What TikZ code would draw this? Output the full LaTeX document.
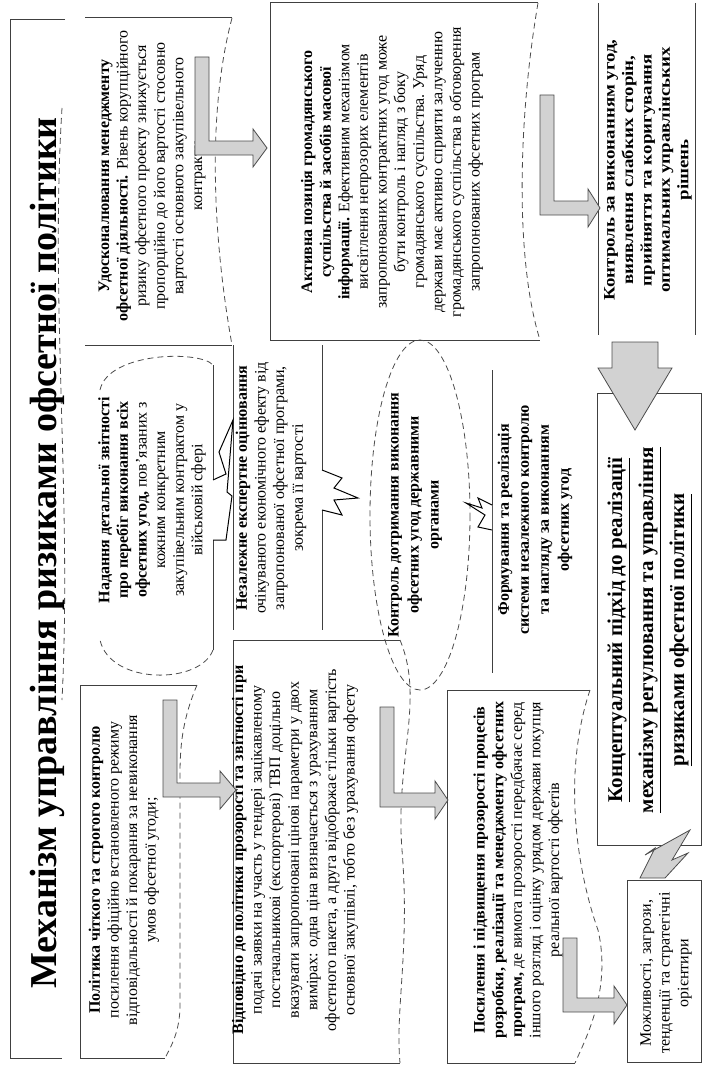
\documentclass[tikz,border=0pt]{standalone}
\usepackage{fontspec}
\setmainfont{Liberation Serif}
\newfontfamily\widefont[FakeStretch=1.18]{Liberation Serif}
\usetikzlibrary{shapes.geometric,positioning}

\newcommand{\bentarr}[5]{%
  \filldraw[barrow] (#1,#2) -- ({#1+14},#2) -- ({#1+14},{#3-14}) -- (#4,{#3-14})
    -- (#4,{#3-26}) -- (#5,{#3-7}) -- (#4,{#3+12}) -- (#4,#3) -- (#1,#3) -- cycle;}

\begin{document}
\begin{tikzpicture}[x=0.5pt, y=-0.5pt,
    txt/.style={rotate=90, align=center, inner sep=0pt,
                font=\fontsize{8}{9.3}\selectfont},
    frame/.style={draw=black!75, line width=0.5pt},
    wave/.style={draw=black!70, densely dashed, line width=0.4pt},
    barrow/.style={fill=gray!35, draw=gray!60!black, line width=0.4pt},
    callout/.style={fill=white, draw=black, line width=0.5pt}
]
\useasboundingbox (0,0) rectangle (703,1070);

% title banner
\draw[frame] (65,20) -- (10,20) -- (10,1058) -- (62,1058);
\draw[wave] (62,108) .. controls (50,300) and (72,500) .. (62,700);
\node[rotate=90, font=\bfseries\fontsize{19}{22}\selectfont] (title) at (47,553)
    {Механізм управління ризиками офсетної політики};

% first row
\draw[frame] (85,18) -- (232,18);
\draw[wave] (232,18) .. controls (205,120) and (215,250) .. (232,345);
\draw[frame] (85,345) -- (232,345);
\node[txt] (upd) at (152,176)
    {\textbf{Удосконалювання менеджменту}\\
     \textbf{офсетної діяльності.} Рівень корупційного\\
     ризику офсетного проекту знижується\\
     пропорційно до його вартості стосовно\\
     вартості основного закупівельного\\
     контракту};

\draw[wave] (100,390) .. controls (108,352) and (200,350) .. (213,365);
\draw[frame] (213,365) -- (213,480);
\draw[frame] (213,540) -- (213,650);
\draw[wave] (213,650) .. controls (200,685) and (110,685) .. (100,640);
\node[txt] (nad) at (152,500)
    {\textbf{Надання детальної звітності}\\
     \textbf{про перебіг виконання всіх}\\
     \textbf{офсетних угод,} пов'язаних з\\
     кожним конкретним\\
     закупівельним контрактом у\\
     військовій сфері};

\draw[frame] (197,685) -- (80,685) -- (80,1058) -- (165,1058);
\draw[wave] (197,685) .. controls (178,730) and (180,760) .. (180,800)
    -- (180,1005) .. controls (180,1030) and (172,1045) .. (165,1058);
\node[txt] (pol) at (124,870)
    {\textbf{Політика чіткого та строгого контролю}\\
     посилення офіційно встановленого режиму\\
     відповідальності й покарання за невиконання\\
     умов офсетної угоди;};

% second row
\draw[frame] (538,3) -- (270,3) -- (270,340) -- (540,340);
\draw[wave] (538,3) .. controls (518,120) and (515,260) .. (540,340);
\node[txt] (akt) at (392,172)
    {\textbf{Активна позиція громадянського}\\
     \textbf{суспільства й засобів масової}\\
     \textbf{інформації.} Ефективним механізмом\\
     висвітлення непрозорих елементів\\
     запропонованих контрактних угод може\\
     бути контроль і нагляд з боку\\
     громадянського суспільства. Уряд\\
     держави має активно сприяти залученню\\
     громадянського суспільства в обговорення\\
     запропонованих офсетних програм};

\draw[frame] (233,345) -- (233,630);
\draw[frame] (322,345) -- (322,630);
\node[txt] (nez) at (271,488)
    {\textbf{Незалежне експертне оцінювання}\\
     очікуваного економічного ефекту від\\
     запропонованої офсетної програми,\\
     зокрема її вартості};

\draw[frame] (400,640) -- (233,640) -- (233,1063) -- (400,1063);
\draw[wave] (400,640) .. controls (425,700) and (395,760) .. (402,850)
    .. controls (410,950) and (395,1010) .. (400,1063);
\node[txt] (vid) at (295,850)
    {\textbf{Відповідно до політики прозорості та звітності при}\\
     подачі заявки на участь у тендері зацікавленому\\
     постачальникові (експортерові) ТВП доцільно\\
     вказувати запропоновані цінові параметри у двох\\
     вимірах: одна ціна визначається з урахуванням\\
     офсетного пакета, а друга відображає тільки вартість\\
     основної закупівлі, тобто без урахування офсету};

% third row
\draw[wave] (420,515) ellipse [x radius=50, y radius=175];
\node[txt, font=\bfseries\fontsize{8}{10}\selectfont] (kdot) at (415,515)
    {Контроль дотримання виконання\\
     офсетних угод державними\\
     органами};

\draw[frame] (492,370) -- (492,673);
\node[txt, font=\bfseries\fontsize{8}{10}\selectfont] (form) at (535,520)
    {Формування та реалізація\\
     системи незалежного контролю\\
     та нагляду за виконанням\\
     офсетних угод};

\draw[frame] (590,690) -- (447,690) -- (447,1063) -- (575,1063);
\draw[wave] (590,690) .. controls (560,780) and (580,880) .. (598,930)
    .. controls (612,990) and (585,1040) .. (575,1063);
\node[txt] (pos) at (518,870)
    {\textbf{Посилення і підвищення прозорості процесів}\\
     \textbf{розробки, реалізації та менеджменту офсетних}\\
     \textbf{програм,} де вимога прозорості передбачає серед\\
     іншого розгляд і оцінку урядом держави покупця\\
     реальної вартості офсетів};

% last row
\draw[frame] (598,3) -- (598,335);
\draw[frame] (695,3) -- (695,335);
\node[txt, font=\widefont\bfseries\fontsize{8}{9.2}\selectfont] (kvyk) at (648,170)
    {Контроль за виконанням угод,\\
     виявлення слабких сторін,\\
     прийняття та коригування\\
     оптимальних управлінських\\
     рішень};

\draw[frame] (597,393) rectangle (701,845);
\node[txt, font=\bfseries\fontsize{10.5}{15.5}\selectfont] (konc) at (650,630)
    {\underline{Концептуальний підхід до реалізації}\\
     \underline{механізму регулювання та управління}\\
     \underline{ризиками офсетної політики}};

\draw[frame] (627,880) rectangle (701,1062);
\node[txt, font=\fontsize{8}{9.4}\selectfont] (mozh) at (666,973)
    {Можливості, загрози,\\
     тенденції та стратегічні\\
     орієнтири};

% arrows
\bentarr{195}{57}{155}{253}{267}
\bentarr{163}{700}{797}{220}{236}
\bentarr{540}{95}{215}{588}{600}
\bentarr{380}{707}{807}{435}{448}
\bentarr{563}{938}{1012}{614}{627}

\filldraw[barrow] (612,342) -- (658,342) -- (658,368) -- (672,368)
    -- (635,430) -- (598,368) -- (612,368) -- cycle;
\filldraw[barrow] (640,878) -- (655,848) -- (645,855) -- (690,830)
    -- (672,860) -- (688,853) -- (665,878) -- cycle;

% callouts
\filldraw[callout] (213,480) -- (226,474) -- (219,452) -- (233,420)
    -- (227,492) -- (232,496) -- (226,540) -- (213,540);
\filldraw[callout] (322,470) -- (342,478) -- (334,488) -- (358,498)
    -- (334,500) -- (342,515) -- (322,510);
\filldraw[callout] (492,530) -- (478,527) -- (485,515) -- (466,503)
    -- (482,508) -- (478,498) -- (492,505);
\end{tikzpicture}
\end{document}
